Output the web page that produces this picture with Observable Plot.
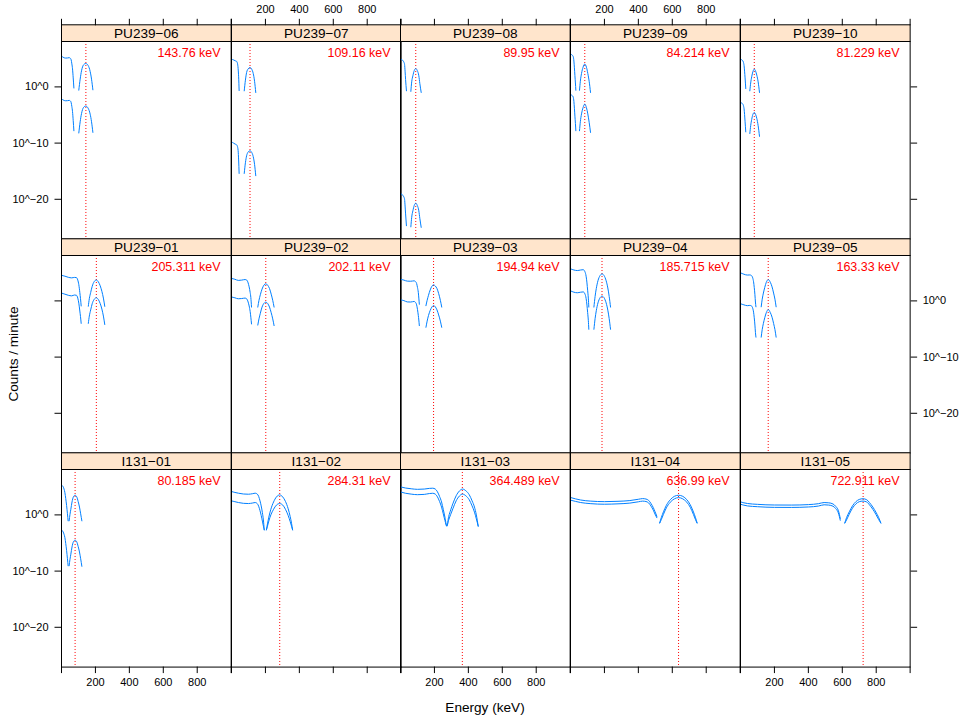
<!DOCTYPE html>
<html>
<head>
<meta charset="utf-8">
<script src="https://cdn.jsdelivr.net/npm/d3@7"></script>
<script src="https://cdn.jsdelivr.net/npm/@observablehq/plot@0.6"></script>
<style>
  body { margin: 0; background: #fff; font-family: "Liberation Sans", Arial, sans-serif; }
  #chart { position: relative; width: 962px; height: 721px; overflow: hidden; background: #fff; }
  .panel { position: absolute; }
  .title { position: absolute; font-size: 13.6px; line-height: 16px; color: #000; text-align: center; white-space: nowrap; }
</style>
</head>
<body>
<div id="chart"></div>
<script>
// ---------------- data ----------------
// panels in reading order: top row, middle row, bottom row
const panelNames = ["PU239−06","PU239−07","PU239−08","PU239−09","PU239−10",
                    "PU239−01","PU239−02","PU239−03","PU239−04","PU239−05",
                    "I131−01","I131−02","I131−03","I131−04","I131−05"];
const peakEnergies = [143.76,109.16,89.95,84.214,81.229,
                      205.311,202.11,194.94,185.715,163.33,
                      80.185,284.31,364.489,636.99,722.911];
const peakLabels = ["143.76 keV","109.16 keV","89.95 keV","84.214 keV","81.229 keV",
                    "205.311 keV","202.11 keV","194.94 keV","185.715 keV","163.33 keV",
                    "80.185 keV","284.31 keV","364.489 keV","636.99 keV","722.911 keV"];

// x tick values / labels (keV) and y tick values / labels (counts / minute)
const xTicks = [0, 200, 400, 600, 800, 1000];
const xTickLabels = ["", "200", "400", "600", "800", ""];
const yTicks = [1, 1e-10, 1e-20];
const yTickLabels = ["10^0", "10^−10", "10^−20"];

// Each panel: energy (keV), and log10(counts/minute) of the upper and lower curve; null = gap
const energy_PU239_06 = [0,7,14,25,35,45,52,57,61,65,69,73,null,102,110,118,130,143,157,169,177,185];
const upper_PU239_06  = [5.5,5.33,5.2,5.13,5.15,5.2,5.1,4.8,4.1,3.2,1.6,-0.2,null,-0.58,1.38,2.86,3.93,4.17,3.81,2.74,1.38,-0.52];
const lower_PU239_06  = [-2.1,-2.27,-2.4,-2.47,-2.45,-2.4,-2.5,-2.8,-3.5,-4.4,-6.0,-7.8,null,-8.2,-6.2,-4.75,-3.65,-3.4,-3.8,-4.85,-6.2,-8.1];

const energy_PU239_07 = [0,12,22,30,35,39,42,45,null,75,82,89,98,109,120,128,136,143];
const upper_PU239_07  = [4.95,4.8,4.65,4.55,4.2,3.3,1.8,-0.65,null,-0.7,1.2,2.56,3.2,3.45,3.1,2.4,1.0,-1.0];
const lower_PU239_07  = [-9.77,-10.0,-10.18,-10.3,-10.6,-11.3,-13.0,-15.4,null,-15.4,-13.5,-12.26,-11.6,-11.37,-11.7,-12.4,-13.8,-15.8];

const energy_PU239_08 = [0,8,15,20,24,27,30,35,null,61,66,73,81,90,99,108,114,122];
const upper_PU239_08  = [4.95,4.85,4.65,4.4,4.0,2.8,1.3,-0.69,null,-0.8,0.9,1.98,2.9,3.25,2.9,1.98,0.6,-0.99];
const lower_PU239_08  = [-18.97,-19.1,-19.35,-19.6,-20.0,-21.2,-22.6,-24.7,null,-24.9,-23.2,-22.05,-21.1,-20.7,-21.1,-22.05,-23.4,-25.0];

const energy_PU239_09 = [0,6,12,16,20,23,26,29,31.5,null,53,58,65,74,84,94,102,110,118];
const upper_PU239_09  = [5.84,5.75,5.6,5.4,4.6,3.4,2.0,0.7,-0.6,null,-0.6,1.0,2.4,3.5,4.06,3.5,2.4,1.0,-0.99];
const lower_PU239_09  = [-1.35,-1.45,-1.6,-1.8,-2.6,-3.8,-5.2,-6.5,-7.8,null,-7.8,-6.2,-4.8,-3.7,-3.07,-3.7,-4.8,-6.3,-8.1];

const energy_PU239_10 = [0,6,12,17,21,24,27,31,null,55,60,66,73,81,89,96,104,112];
const upper_PU239_10  = [4.95,4.85,4.7,4.4,3.8,2.8,1.6,-0.3,null,-0.7,0.7,1.8,2.7,3.16,2.8,2.1,0.9,-0.99];
const lower_PU239_10  = [-2.77,-2.85,-3.0,-3.3,-3.9,-4.9,-6.2,-8.0,null,-8.3,-6.9,-5.8,-4.9,-4.55,-4.9,-5.6,-6.9,-8.8];

const energy_PU239_01 = [0,20,40,60,77,88,96,102,108,112,116,null,158,164,172,181,192,205,217,228,238,247,255];
const upper_PU239_01  = [4.55,4.4,4.2,4.1,4.18,4.15,3.7,2.9,1.5,0.4,-0.9,null,-0.95,0.4,1.5,2.6,3.4,3.72,3.4,2.7,1.7,0.5,-0.97];
const lower_PU239_01  = [1.4,1.2,1.0,0.9,1.05,1.0,0.5,-0.4,-1.8,-2.8,-4.0,null,-4.0,-2.7,-1.6,-0.5,0.25,0.55,0.25,-0.45,-1.45,-2.7,-4.2];

const energy_PU239_02 = [0,20,40,60,80,90,98,104,110,114,118,null,155,162,170,180,191,202,213,224,234,243,251];
const upper_PU239_02  = [4.0,3.85,3.65,3.7,3.8,3.7,3.2,2.5,1.5,0.6,-1.1,null,-1.1,0.1,1.1,2.1,2.8,3.05,2.8,2.2,1.2,0.1,-1.1];
const lower_PU239_02  = [0.7,0.55,0.38,0.42,0.5,0.35,-0.2,-0.9,-1.9,-2.9,-4.1,null,-4.3,-3.2,-2.2,-1.1,-0.45,-0.22,-0.45,-1.1,-2.1,-3.2,-4.4];

const energy_PU239_03 = [0,20,40,60,80,88,95,100,105,108,111,null,150,157,165,175,185,195,205,215,225,235,243];
const upper_PU239_03  = [3.85,3.7,3.52,3.5,3.57,3.45,3.1,2.4,1.5,0.5,-0.6,null,-0.85,0.1,1.0,1.95,2.6,2.86,2.65,2.2,1.3,0.1,-1.1];
const lower_PU239_03  = [0.2,0.05,-0.18,-0.2,-0.1,-0.25,-0.7,-1.5,-2.6,-3.4,-4.4,null,-4.7,-3.6,-2.6,-1.7,-1.1,-0.82,-1.05,-1.6,-2.5,-3.6,-4.7];

const energy_PU239_04 = [0,20,40,60,75,85,92,97,101,105,108,null,138,145,152,162,174,186,198,210,220,228,236];
const upper_PU239_04  = [5.71,5.5,5.4,5.5,5.55,5.2,4.4,3.2,1.9,0.5,-1.1,null,-1.1,0.8,2.2,3.6,4.5,4.8,4.5,3.6,2.3,0.8,-1.1];
const lower_PU239_04  = [1.8,1.55,1.45,1.55,1.6,1.25,0.45,-0.75,-2.05,-3.45,-5.05,null,-5.05,-3.15,-1.75,-0.35,0.55,0.85,0.55,-0.35,-1.65,-3.15,-5.05];

const energy_PU239_05 = [0,20,40,55,65,72,77,81,85,88,91,null,122,128,135,143,152,164,176,186,195,203,210];
const upper_PU239_05  = [5.0,4.75,4.6,4.62,4.5,4.1,3.4,2.4,1.1,-0.2,-1.05,null,-1.05,0.3,1.4,2.4,3.3,3.78,3.3,2.5,1.4,0.3,-1.05];
const lower_PU239_05  = [-0.5,-0.7,-0.85,-0.8,-0.9,-1.3,-2.0,-3.0,-4.3,-5.6,-6.45,null,-6.45,-5.1,-4.0,-3.0,-2.1,-1.55,-2.1,-2.9,-4.0,-5.1,-6.45];

const energy_I131_01 = [0,5,10,15,20,25,30,35,39,null,45,50,55,62,70,80,90,98,106,113,120];
const upper_I131_01  = [5.28,5.2,5.0,4.6,3.95,2.9,1.7,0.2,-1.05,null,-1.05,0.1,1.0,2.3,3.2,3.5,3.2,2.4,1.4,0.2,-1.06];
const lower_I131_01  = [-2.7,-2.8,-3.05,-3.45,-4.05,-5.1,-6.3,-7.8,-9.05,null,-9.05,-7.9,-7.0,-5.7,-4.8,-4.5,-4.8,-5.6,-6.6,-7.8,-9.15];

const energy_I131_02 = [0,20,41,70,100,125,140,152,160,168,175,182,188,193,null,206,212,220,232,248,265,284,302,318,334,346,354,360];
const upper_I131_02  = [4.16,4.0,3.86,3.72,3.68,3.78,3.86,3.7,3.3,2.5,1.6,0.4,-0.9,-2.66,null,-2.66,-1.6,-0.4,1.0,2.3,3.2,3.56,3.2,2.4,1.1,-0.3,-1.5,-2.66];
const lower_I131_02  = [2.5,2.35,2.2,2.06,2.02,2.12,2.2,2.0,1.55,0.75,-0.1,-1.1,-2.0,-2.66,null,-2.66,-2.0,-1.1,0.0,1.0,1.75,2.02,1.75,1.0,-0.1,-1.2,-2.0,-2.66];

const energy_I131_03 = [0,30,63,100,140,170,190,205,218,230,242,252,262,273,284,296,310,328,347,366,385,405,422,436,447,458];
const upper_I131_03  = [5.0,4.78,4.65,4.55,4.6,4.72,4.75,4.6,4.1,3.3,2.3,1.0,-0.4,-2.0,-0.3,0.9,2.1,3.4,4.25,4.6,4.3,3.6,2.5,1.4,0.0,-2.0];
const lower_I131_03  = [4.1,3.85,3.7,3.6,3.65,3.8,3.85,3.7,3.2,2.4,1.4,0.2,-1.0,-2.0,-0.9,0.1,1.2,2.5,3.35,3.7,3.4,2.7,1.6,0.5,-0.7,-2.0];

const energy_I131_04 = [0,30,60,120,200,280,350,400,425,445,460,475,488,498,509,null,526,535,548,565,588,612,637,662,686,706,725,737,746];
const upper_I131_04  = [3.1,2.85,2.65,2.45,2.36,2.42,2.55,2.78,2.9,2.82,2.6,2.0,1.3,0.6,-0.25,null,-1.4,-0.5,0.55,1.7,2.7,3.3,3.5,3.3,2.7,1.8,0.5,-0.5,-1.4];
const lower_I131_04  = [2.63,2.4,2.2,2.0,1.9,1.97,2.1,2.33,2.45,2.38,2.15,1.55,0.85,0.15,-0.5,null,-1.45,-0.85,0.1,1.25,2.25,2.85,3.08,2.85,2.25,1.35,0.05,-0.85,-1.45];

const energy_I131_05 = [0,20,41,100,200,300,400,460,493,520,545,562,576,583,588,null,615,625,641,660,680,700,722,744,760,780,798,815,827];
const upper_I131_05  = [2.32,2.15,2.03,1.88,1.76,1.75,1.83,2.0,2.2,2.15,1.95,1.5,0.84,0.1,-0.64,null,-1.42,-0.5,0.54,1.6,2.35,2.75,2.88,2.7,2.2,1.4,0.5,-0.5,-1.42];
const lower_I131_05  = [1.9,1.73,1.6,1.46,1.34,1.33,1.41,1.58,1.8,1.75,1.55,1.1,0.4,-0.3,-0.95,null,-1.45,-0.9,0.12,1.2,1.95,2.35,2.46,2.3,1.8,1.0,0.1,-0.85,-1.45];

const panelSeries = [
  [energy_PU239_06, upper_PU239_06, lower_PU239_06],
  [energy_PU239_07, upper_PU239_07, lower_PU239_07],
  [energy_PU239_08, upper_PU239_08, lower_PU239_08],
  [energy_PU239_09, upper_PU239_09, lower_PU239_09],
  [energy_PU239_10, upper_PU239_10, lower_PU239_10],
  [energy_PU239_01, upper_PU239_01, lower_PU239_01],
  [energy_PU239_02, upper_PU239_02, lower_PU239_02],
  [energy_PU239_03, upper_PU239_03, lower_PU239_03],
  [energy_PU239_04, upper_PU239_04, lower_PU239_04],
  [energy_PU239_05, upper_PU239_05, lower_PU239_05],
  [energy_I131_01, upper_I131_01, lower_I131_01],
  [energy_I131_02, upper_I131_02, lower_I131_02],
  [energy_I131_03, upper_I131_03, lower_I131_03],
  [energy_I131_04, upper_I131_04, lower_I131_04],
  [energy_I131_05, upper_I131_05, lower_I131_05]
];

// ---------------- layout ----------------
const COL0 = 61, PW = 169.65, STRIP = 16.7, PH = 197.6, ROW0 = 40.7, PITCH = 214.3;
const ML = 50, MR = 50, MT = 45, MB = 45;
const FONT = '"Liberation Sans", Arial, Helvetica, sans-serif';
const BLUE = "#0080ff";

const chart = document.getElementById("chart");
const xLab = d => { const i = xTicks.indexOf(d); return i < 0 ? "" : xTickLabels[i]; };
const yLab = d => { const i = yTicks.indexOf(d); return i < 0 ? "" : yTickLabels[i]; };

panelNames.forEach((name, i) => {
  const row = Math.floor(i / 5), col = i % 5;
  const [E, up, lo] = panelSeries[i];
  const rows = [];
  E.forEach((e, j) => rows.push({E: e == null ? NaN : e, v: up[j] == null ? NaN : Math.pow(10, up[j]), s: "upper"}));
  E.forEach((e, j) => rows.push({E: e == null ? NaN : e, v: lo[j] == null ? NaN : Math.pow(10, lo[j]), s: "lower"}));

  const marks = [
    Plot.frame({fill: "#ffe5cc", stroke: "#000", strokeWidth: 1, insetTop: -STRIP, insetBottom: PH}),
    Plot.text([name], {text: d => d, frameAnchor: "top", dy: -STRIP / 2, lineAnchor: "middle",
                       fontSize: 13.6, fill: "#000"}),
    Plot.ruleX([peakEnergies[i]], {x: d => d, stroke: "#ff0000", strokeWidth: 1, strokeDasharray: "1,2"}),
    Plot.line(rows, {x: "E", y: "v", z: "s", stroke: BLUE, strokeWidth: 1, curve: "monotone-x"}),
    Plot.text([peakLabels[i]], {text: d => d, frameAnchor: "top-right", dx: -10.5, dy: 12,
                                lineAnchor: "middle", textAnchor: "end", fill: "#ff0000", fontSize: 12.5}),
    Plot.frame({stroke: "#000", strokeWidth: 1})
  ];
  if (row === 0) marks.push(Plot.axisX({anchor: "top", ticks: xTicks, tickSize: 6.5, tickPadding: 5.5, dy: -STRIP,
      tickFormat: d => (col % 2 === 1 ? xLab(d) : ""), label: null, fontSize: 11}));
  if (row === 2) marks.push(Plot.axisX({anchor: "bottom", ticks: xTicks, tickSize: 6.5, tickPadding: 5,
      tickFormat: d => (col % 2 === 0 ? xLab(d) : ""), label: null, fontSize: 11}));
  if (col === 0) marks.push(Plot.axisY({anchor: "left", ticks: yTicks, tickSize: 6.5, tickPadding: 6.5,
      tickFormat: d => (row !== 1 ? yLab(d) : ""), label: null, fontSize: 11}));
  if (col === 4) marks.push(Plot.axisY({anchor: "right", ticks: yTicks, tickSize: 6.5, tickPadding: 6,
      tickFormat: d => (row === 1 ? yLab(d) : ""), label: null, fontSize: 11}));

  const svg = Plot.plot({
    width: PW + ML + MR,
    height: PH + MT + MB,
    marginLeft: ML, marginRight: MR, marginTop: MT, marginBottom: MB,
    x: {domain: [0, 1000], axis: null},
    y: {type: "log", domain: [Math.pow(10, -27.08), Math.pow(10, 8.08)], axis: null},
    style: {background: "transparent", overflow: "visible", fontFamily: FONT, fontSize: "11px",
            color: "#000", maxWidth: "none"},
    marks
  });
  const div = document.createElement("div");
  div.className = "panel";
  div.style.left = (COL0 + col * PW - ML) + "px";
  div.style.top = (ROW0 + row * PITCH - MT) + "px";
  div.style.width = (PW + ML + MR) + "px";
  div.appendChild(svg);
  chart.appendChild(div);
});

// axis titles
const xt = document.createElement("div");
xt.className = "title";
xt.textContent = "Energy (keV)";
xt.style.left = "385px"; xt.style.width = "200px"; xt.style.top = "700px";
chart.appendChild(xt);

const yt = document.createElement("div");
yt.className = "title";
yt.textContent = "Counts / minute";
yt.style.left = "-86px"; yt.style.width = "200px"; yt.style.top = "346px"; yt.style.height = "16px";
yt.style.transform = "rotate(-90deg)";
chart.appendChild(yt);
</script>
</body>
</html>
